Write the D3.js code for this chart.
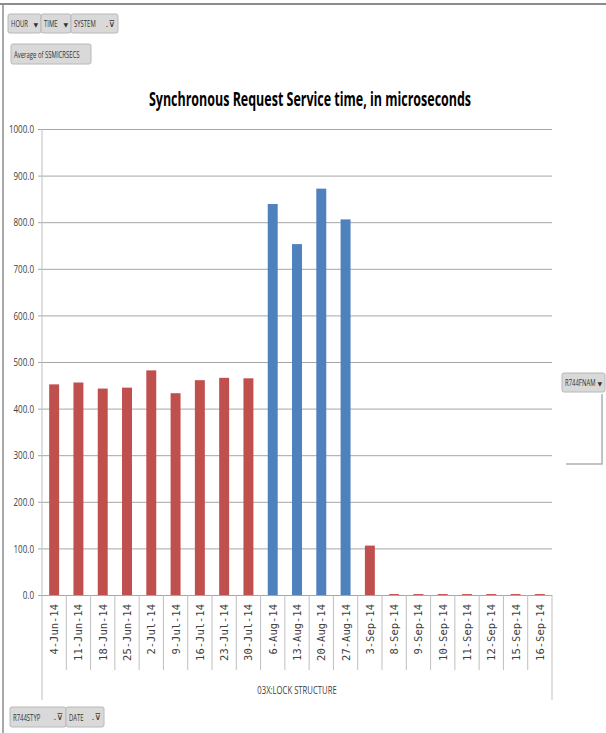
<!DOCTYPE html>
<html>
<head>
<meta charset="utf-8">
<script src="https://cdn.jsdelivr.net/npm/d3@7"></script>
<style>
  body { margin: 0; background: #fff; }
  svg { display: block; }
</style>
</head>
<body>
<div id="chart"></div>
<script>
// Chart data
const DATES = ['4-Jun-14', '11-Jun-14', '18-Jun-14', '25-Jun-14', '2-Jul-14', '9-Jul-14',
  '16-Jul-14', '23-Jul-14', '30-Jul-14', '6-Aug-14', '13-Aug-14', '20-Aug-14', '27-Aug-14',
  '3-Sep-14', '8-Sep-14', '9-Sep-14', '10-Sep-14', '11-Sep-14', '12-Sep-14', '15-Sep-14', '16-Sep-14'];
const VALUES = [452, 456, 443, 445, 482, 433, 461, 466, 465, 839, 753, 872, 806,
  106, 2, 2, 2, 2, 2, 2, 2];
// which series (colour) each bar belongs to
const SERIES = ['a', 'a', 'a', 'a', 'a', 'a', 'a', 'a', 'a', 'b', 'b', 'b', 'b',
  'a', 'a', 'a', 'a', 'a', 'a', 'a', 'a'];
const Y_TICKS = [0, 100, 200, 300, 400, 500, 600, 700, 800, 900, 1000];

const W = 606, H = 733;
const PLOT = { left: 42, right: 552, top: 129, bottom: 595 };

const COLORS = {
  a: '#c0504d',
  b: '#4f81bd',
  grid: '#a6a6a6',
  axis: '#bfbfbf',
  text: '#404040',
  button: '#d9d9d9',
  buttonStroke: '#b8b8b8'
};

const FONT = "'Open Sans', sans-serif";
const SQUEEZE = 0.7;   // no narrow font installed, so squeeze Open Sans

let svg = d3.select('#chart').append('svg')
  .attr('width', W)
  .attr('height', H);

// squeezed text placed at (x, y)
function narrowText(parent, x, y, str, size, anchor) {
  return parent.append('text')
    .text(str)
    .attr('transform', `translate(${x},${y}) scale(${SQUEEZE},1)`)
    .attr('text-anchor', anchor || 'start')
    .style('font-family', FONT)
    .style('font-size', size + 'px');
}

// Page frame (top and left edge)
svg.append('line')
  .attr('x1', 0).attr('x2', W).attr('y1', 4).attr('y2', 4)
  .style('stroke', '#8c8c8c').style('stroke-width', 2);
svg.append('line')
  .attr('x1', 3).attr('x2', 3).attr('y1', 4).attr('y2', H)
  .style('stroke', '#8c8c8c').style('stroke-width', 1.5);

let xScale = d3.scaleBand()
  .domain(DATES)
  .range([PLOT.left, PLOT.right])
  .padding(0);
let yScale = d3.scaleLinear()
  .domain([0, 1000])
  .range([PLOT.bottom, PLOT.top]);

// Gridlines + y axis
let yAxis = d3.axisLeft(yScale)
  .tickValues(Y_TICKS)
  .tickSize(-(PLOT.right - PLOT.left) - 4)
  .tickPadding(4)
  .tickFormat(d3.format('.1f'));
let yg = svg.append('g')
  .attr('transform', `translate(${PLOT.left - 4},0)`)
  .call(yAxis);
yg.select('.domain').remove();
yg.selectAll('.tick line')
  .style('stroke', COLORS.grid)
  .style('stroke-width', 1);
yg.selectAll('.tick text')
  .attr('x', -4 / SQUEEZE)
  .attr('transform', `scale(${SQUEEZE},1)`)
  .style('fill', COLORS.text)
  .style('font-family', FONT)
  .style('font-size', '11.5px');

// Vertical axis lines (value axis + category area frame)
svg.append('line')
  .attr('x1', PLOT.left).attr('x2', PLOT.left)
  .attr('y1', PLOT.top).attr('y2', 700)
  .style('stroke', COLORS.axis);
svg.append('line')
  .attr('x1', PLOT.right).attr('x2', PLOT.right)
  .attr('y1', PLOT.bottom).attr('y2', 700)
  .style('stroke', COLORS.axis);

// Category separators
svg.selectAll('.sep')
    .data(DATES.slice(1))
  .enter().append('line')
    .attr('class', 'sep')
    .attr('x1', d => xScale(d))
    .attr('x2', d => xScale(d))
    .attr('y1', PLOT.bottom)
    .attr('y2', 670)
    .style('stroke', COLORS.axis);

// Bars
const barW = xScale.bandwidth() * 0.41;
svg.selectAll('.bar')
    .data(DATES)
  .enter().append('rect')
    .attr('class', 'bar')
    .attr('x', d => xScale(d) + (xScale.bandwidth() - barW) / 2)
    .attr('y', (d, i) => yScale(VALUES[i]))
    .attr('width', barW)
    .attr('height', (d, i) => PLOT.bottom - yScale(VALUES[i]))
    .style('fill', (d, i) => COLORS[SERIES[i]]);

// Category labels
svg.selectAll('.cat')
    .data(DATES)
  .enter().append('text')
    .attr('class', 'cat')
    .text(d => d)
    .attr('transform', d => `translate(${xScale(d) + xScale.bandwidth() / 2 + 4},${PLOT.bottom + 9}) rotate(-90)`)
    .attr('text-anchor', 'end')
    .style('fill', COLORS.text)
    .style('font-family', "'DejaVu Sans Mono', monospace")
    .style('font-size', '10.5px');

// Axis title under categories
narrowText(svg, 297, 694, '03X:LOCK STRUCTURE', 11, 'middle')
  .style('fill', COLORS.text);

// Chart title
svg.append('text')
  .text('Synchronous Request Service time, in microseconds')
  .attr('transform', 'translate(310,106) scale(0.64,1)')
  .attr('text-anchor', 'middle')
  .style('fill', '#000')
  .style('font-family', FONT)
  .style('font-weight', 'bold')
  .style('font-size', '19.5px');

// Pivot field buttons
function button(x, y, w, h, label, icon) {
  let g = svg.append('g').attr('transform', `translate(${x},${y})`);
  g.append('rect')
    .attr('width', w).attr('height', h)
    .attr('rx', 2)
    .style('fill', COLORS.button)
    .style('stroke', COLORS.buttonStroke);
  narrowText(g, 3, h / 2 + 3.5, label, 8.5)
    .style('fill', '#333');
  if (icon) {
    g.append('text')
      .text(icon)
      .attr('x', w - 3).attr('y', h / 2 + 3)
      .attr('text-anchor', 'end')
      .style('fill', '#333')
      .style('font-family', "'DejaVu Sans', sans-serif")
      .style('font-size', icon === '▼' ? '6px' : '9px');
  }
}

button(8, 14, 33, 19, 'HOUR', '▼');
button(41, 14, 30, 19, 'TIME', '▼');
button(71, 14, 47, 19, 'SYSTEM', '.⊽');
button(11, 44, 80, 20, 'Average of SSMICRSECS');
button(10, 707, 56, 20, 'R744STYP', '.⊽');
button(66, 707, 38, 20, 'DATE', '.⊽');
button(562, 373, 43, 19, 'R744FNAM', '▼');

// Legend box (empty)
svg.append('path')
  .attr('d', 'M602,394 V464 H566')
  .style('fill', 'none')
  .style('stroke', '#b0b0b0')
  .style('stroke-width', 1.5);
</script>
</body>
</html>
